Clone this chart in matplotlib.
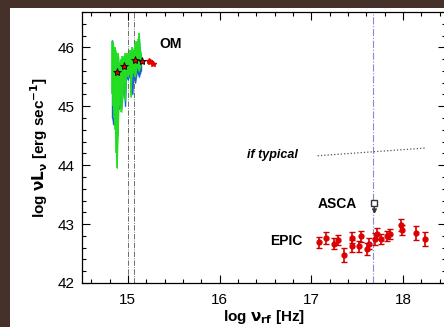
import matplotlib
matplotlib.use('Agg')
import matplotlib.pyplot as plt
import matplotlib.patches as mpatches
from matplotlib.ticker import MultipleLocator

plt.rcParams['font.family'] = ['Liberation Sans', 'DejaVu Sans']

# OM / UV spectrum (green over blue), log nu vs log nuLnu
spec_x = [14.83, 14.84, 14.85, 14.86, 14.87, 14.88, 14.89, 14.90, 14.91, 14.92, 14.93,
          14.94, 14.95, 14.96, 14.97, 14.98, 14.99, 15.00, 15.01, 15.02, 15.03, 15.04,
          15.05, 15.06, 15.07, 15.08, 15.09, 15.10, 15.11, 15.12, 15.13, 15.14]
green_hi = [46.10, 46.05, 45.95, 46.00, 45.90, 45.80, 45.90, 45.75, 45.70, 45.80, 45.75,
            45.85, 45.80, 45.85, 45.90, 45.85, 45.90, 45.88, 45.90, 45.95, 45.85, 45.95,
            46.00, 45.90, 45.95, 46.05, 46.10, 46.00, 46.15, 46.25, 46.00, 45.90]
green_lo = [45.20, 45.00, 44.80, 44.60, 44.20, 43.95, 44.50, 45.00, 45.20, 45.35, 44.90,
            45.10, 45.40, 45.50, 45.10, 45.55, 45.60, 45.50, 45.55, 45.60, 45.15, 45.50,
            45.60, 45.65, 45.55, 45.50, 45.60, 45.70, 45.65, 45.60, 45.65, 45.70]
blue_hi = [46.12, 46.00, 45.90, 45.95, 45.85, 45.75, 45.85, 45.70, 45.65, 45.75, 45.70,
           45.80, 45.75, 45.80, 45.85, 45.80, 45.85, 45.85, 45.85, 45.90, 45.80, 45.90,
           45.95, 45.85, 45.90, 46.00, 46.05, 45.95, 46.10, 46.15, 45.95, 45.85]
blue_lo = [44.80, 44.70, 44.68, 44.90, 45.00, 45.10, 45.00, 44.95, 45.00, 44.97, 45.00,
           45.15, 45.30, 45.20, 45.00, 45.45, 45.50, 45.45, 45.50, 45.55, 45.25, 45.40,
           45.20, 45.50, 45.45, 45.40, 45.50, 45.60, 45.55, 45.50, 45.55, 45.60]

# OM photometry
om_x = [14.88, 14.96, 15.08, 15.15]
om_y = [45.58, 45.68, 45.79, 45.77]
om_red_x = [15.23, 15.24, 15.27]
om_red_y = [45.76, 45.75, 45.71]

# EPIC spectrum
epic_x = [17.08, 17.16, 17.25, 17.29, 17.36, 17.44, 17.45, 17.52, 17.54, 17.61,
          17.63, 17.70, 17.72, 17.76, 17.83, 17.86, 17.98, 17.99, 18.14, 18.24]
epic_y = [42.69, 42.77, 42.67, 42.73, 42.47, 42.77, 42.63, 42.62, 42.79, 42.58,
          42.67, 42.75, 42.84, 42.75, 42.80, 42.83, 42.98, 42.90, 42.85, 42.74]
epic_err = [0.09, 0.10, 0.09, 0.09, 0.12, 0.09, 0.10, 0.10, 0.10, 0.10,
            0.09, 0.10, 0.10, 0.09, 0.09, 0.09, 0.10, 0.09, 0.12, 0.12]

# ASCA upper limit
asca_x = 17.68
asca_y = 43.36
asca_arrow = 0.15

# "if typical" line
typ_x = [17.07, 18.24]
typ_y = [44.16, 44.29]

# vertical reference lines
vlines_gray = [15.00, 15.07]
vline_blue = 17.67

fig = plt.figure(figsize=(4.44, 3.27), dpi=100, facecolor='#45302a')
fig.patches.append(mpatches.Rectangle((10 / 444, 0), 1, 1 - 8 / 327,
                                      transform=fig.transFigure, facecolor='white',
                                      edgecolor='none', zorder=-10))
ax = fig.add_axes([82 / 444, 1 - 283 / 327, 364 / 444, 271 / 327])
ax.set_zorder(5)
ax.set_facecolor('white')

# spiky spectra: filled envelopes plus vertical strokes
ax.fill_between(spec_x, blue_lo, blue_hi, color='#1f5fd0', lw=0.6, zorder=2)
ax.vlines(spec_x, blue_lo, blue_hi, color='#1f5fd0', lw=1.0, zorder=2)
ax.fill_between(spec_x, green_lo, green_hi, color='#22dd22', lw=0.6, zorder=3)
ax.vlines(spec_x, green_lo, green_hi, color='#22dd22', lw=1.2, zorder=3)

for xv in vlines_gray:
    ax.axvline(xv, color='#555555', ls='-.', lw=0.6, zorder=1)
ax.axvline(vline_blue, color='#8a8ad0', ls='-.', lw=0.8, zorder=1)

ax.plot(om_x, om_y, ls='none', marker='*', ms=6, mfc='#e00000', mec='black', mew=0.6, zorder=5)
ax.plot(om_red_x, om_red_y, ls='none', marker='*', ms=4, color='#e00000', zorder=5)

ax.errorbar(epic_x, epic_y, yerr=epic_err, fmt='o', ms=3.5, color='#dd0000',
            ecolor='#cc0000', elinewidth=1.2, capsize=2, capthick=1, zorder=4)

# ASCA point with downward arrow (upper limit)
ax.plot([asca_x, asca_x], [asca_y, asca_y - asca_arrow], color='#333333', lw=0.8, zorder=5)
ax.plot([asca_x], [asca_y - asca_arrow], marker=7, ms=3.5, color='#333333', zorder=5)
ax.plot([asca_x], [asca_y], marker='s', ms=4, mfc='white', mec='#333333', mew=1, zorder=6)

ax.plot(typ_x, typ_y, color='#555555', ls=':', lw=0.9, zorder=2)

ax.text(15.34, 46.06, 'OM', fontsize=10, fontweight='bold', ha='left', va='center')
ax.text(16.85, 44.17, 'if typical', fontsize=9, fontweight='bold', style='italic',
        ha='right', va='center')
ax.text(17.50, 43.34, 'ASCA', fontsize=10, fontweight='bold', ha='right', va='center')
ax.text(16.90, 42.71, 'EPIC', fontsize=10, fontweight='bold', ha='right', va='center')

ax.set_xlim(14.5, 18.47)
ax.set_ylim(42, 46.6)
ax.xaxis.set_major_locator(MultipleLocator(1))
ax.xaxis.set_minor_locator(MultipleLocator(0.2))
ax.yaxis.set_major_locator(MultipleLocator(1))
ax.yaxis.set_minor_locator(MultipleLocator(0.2))
ax.tick_params(which='both', direction='in', top=True, right=True, width=0.8, colors='black')
ax.tick_params(which='major', length=6, labelsize=11)
ax.tick_params(which='minor', length=3)
ax.tick_params(axis='x', pad=7)
ax.tick_params(axis='y', pad=5)
for s in ax.spines.values():
    s.set_linewidth(0.9)

ax.set_xlabel(r'log $\mathbf{\nu_{rf}}$ [Hz]', fontsize=11, fontweight='bold', labelpad=1)
ax.set_ylabel(r'log $\mathbf{\nu L_{\nu}}$ [erg sec$\mathbf{^{-1}}$]', fontsize=11,
              fontweight='bold', labelpad=6)

fig.savefig('out.png', dpi=100, facecolor=fig.get_facecolor())
